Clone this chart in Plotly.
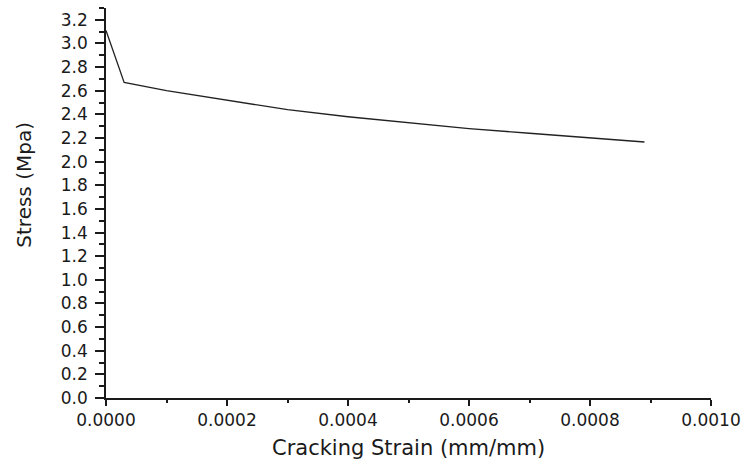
import plotly.graph_objects as go

# Tension-softening curve: stress vs cracking strain
cracking_strain = [0.0, 0.00003, 0.0001, 0.0002, 0.0003, 0.0004, 0.0005,
                   0.0006, 0.0007, 0.0008, 0.00089]
stress_mpa = [3.11, 2.67, 2.60, 2.52, 2.44, 2.38, 2.33, 2.28, 2.24, 2.20, 2.166]

x_ticks = [0.0, 0.0002, 0.0004, 0.0006, 0.0008, 0.0010]
y_ticks = [round(0.2 * i, 1) for i in range(17)]

x_title = "Cracking Strain (mm/mm)"
y_title = "Stress (Mpa)"

FONT = "DejaVu Sans"
INK = "#1a1a1a"

fig = go.Figure()
fig.add_trace(go.Scatter(
    x=cracking_strain, y=stress_mpa, mode="lines",
    line=dict(color="#222222", width=1.3), showlegend=False,
))

fig.update_layout(
    width=749, height=466,
    margin=dict(l=106, r=33, t=8, b=68),
    paper_bgcolor="white", plot_bgcolor="white",
    font=dict(family=FONT, color=INK),
)

fig.update_xaxes(
    range=[0, 0.001], tickvals=x_ticks, tickformat=".4f",
    showline=True, linecolor=INK, linewidth=1.5,
    ticks="outside", ticklen=6, tickwidth=1.5, tickcolor=INK,
    minor=dict(dtick=0.0001, ticks="outside", ticklen=3, tickwidth=1.5,
               tickcolor=INK, showgrid=False),
    showgrid=False, zeroline=False,
    tickfont=dict(family=FONT, size=17, color=INK),
)

fig.update_yaxes(
    range=[0, 3.3], tickvals=y_ticks, tickformat=".1f",
    showline=True, linecolor=INK, linewidth=1.5,
    ticks="outside", ticklen=9, tickwidth=1.5, tickcolor=INK,
    minor=dict(dtick=0.1, ticks="outside", ticklen=5, tickwidth=1.5,
               tickcolor=INK, showgrid=False),
    showgrid=False, zeroline=False, ticklabelstandoff=4,
    tickfont=dict(family=FONT, size=17, color=INK),
)

# Axis titles placed as annotations relative to the plotting area
fig.add_annotation(
    text=x_title, xref="paper", yref="paper", x=0.5, y=0,
    xanchor="center", yanchor="middle", yshift=-50, showarrow=False,
    font=dict(family=FONT, size=21, color=INK),
)
fig.add_annotation(
    text=y_title, xref="paper", yref="paper", x=0, y=0.547,
    xanchor="center", yanchor="middle", xshift=-82, textangle=-90,
    showarrow=False, font=dict(family=FONT, size=20, color=INK),
)

fig.write_html("out.html")
